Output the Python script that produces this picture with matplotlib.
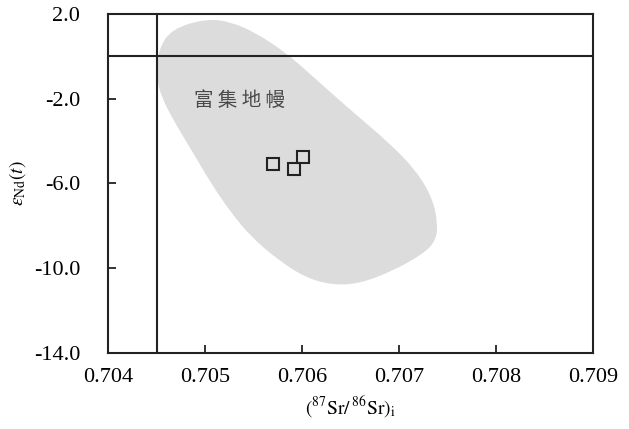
import matplotlib
matplotlib.use('Agg')
import matplotlib.pyplot as plt
from matplotlib.patches import PathPatch
from matplotlib.path import Path

plt.rcParams['font.family'] = ['Liberation Serif', 'Noto Sans CJK SC', 'DejaVu Sans']
plt.rcParams['mathtext.fontset'] = 'stix'

# 样品数据 (87Sr/86Sr)i vs eNd(t)
sr_i = [0.70570, 0.70592, 0.70601]
end_t = [-5.08, -5.31, -4.76]

# 富集地幔区域边界 (控制点)
em_x = [0.705018, 0.705270, 0.705520, 0.705840, 0.706150, 0.706500, 0.706900,
        0.707170, 0.707340, 0.707400, 0.707380, 0.707250, 0.706938, 0.706598,
        0.706320, 0.706040, 0.705760, 0.705480, 0.705270, 0.705060, 0.704860,
        0.704690, 0.704550, 0.704500, 0.704520, 0.704660]
em_y = [1.78, 1.62, 1.12, 0.16, -1.11, -2.53, -4.09,
        -5.36, -6.64, -7.86, -8.70, -9.32, -10.12, -10.72,
        -10.80, -10.45, -9.63, -8.54, -7.39, -5.98, -4.42,
        -3.14, -1.92, -0.97, 0.34, 1.30]

# 参考线：BSE
bse_sr = 0.7045
bse_nd = 0.0

xticks = [0.704, 0.705, 0.706, 0.707, 0.708, 0.709]
yticks = [2.0, -2.0, -6.0, -10.0, -14.0]


def smooth_path(xs, ys):
    # 二次贝塞尔平滑闭合曲线：控制点为原始点，端点为中点
    n = len(xs)
    mids = [((xs[i] + xs[(i + 1) % n]) / 2, (ys[i] + ys[(i + 1) % n]) / 2) for i in range(n)]
    verts = [mids[-1]]
    codes = [Path.MOVETO]
    for i in range(n):
        verts += [(xs[i], ys[i]), mids[i]]
        codes += [Path.CURVE3, Path.CURVE3]
    verts.append(mids[-1])
    codes.append(Path.CLOSEPOLY)
    return Path(verts, codes)


fig = plt.figure(figsize=(6.29, 4.29), dpi=100)
ax = fig.add_axes([0.1717, 0.1772, 0.7711, 0.7902])

ax.add_patch(PathPatch(smooth_path(em_x, em_y), facecolor='#dcdcdc',
                       edgecolor='none', zorder=1))
ax.axhline(bse_nd, color='#222222', lw=1.5, zorder=2)
ax.axvline(bse_sr, color='#222222', lw=1.5, zorder=2)

ax.plot(sr_i, end_t, 's', ms=9, mfc='none', mec='#222222', mew=1.5, zorder=3)

ax.text(0.70536, -2.1, '富 集 地 幔', family=['Noto Sans CJK SC'], fontsize=14,
        color='#4a4a4a', ha='center', va='center')

ax.set_xlim(0.704, 0.709)
ax.set_ylim(-14, 2)
ax.set_xticks(xticks)
ax.set_xticklabels([f'{v:.3f}' for v in xticks])
ax.set_yticks(yticks)
ax.set_yticklabels([f'{v:.1f}' for v in yticks])
ax.tick_params(direction='in', length=6, width=1.3, labelsize=16, color='#222222')
ax.tick_params(axis='y', pad=20)
ax.tick_params(axis='x', pad=11)
for s in ax.spines.values():
    s.set_linewidth(1.5)
    s.set_color('#222222')

ax.set_xlabel(r'$(^{87}\mathrm{Sr}/\,^{86}\mathrm{Sr})_{\mathrm{i}}$', fontsize=14, labelpad=5)
ax.set_ylabel(r'$\varepsilon_{\mathrm{Nd}}(t)$', fontsize=14, labelpad=4)

fig.savefig('out.png', dpi=100)
